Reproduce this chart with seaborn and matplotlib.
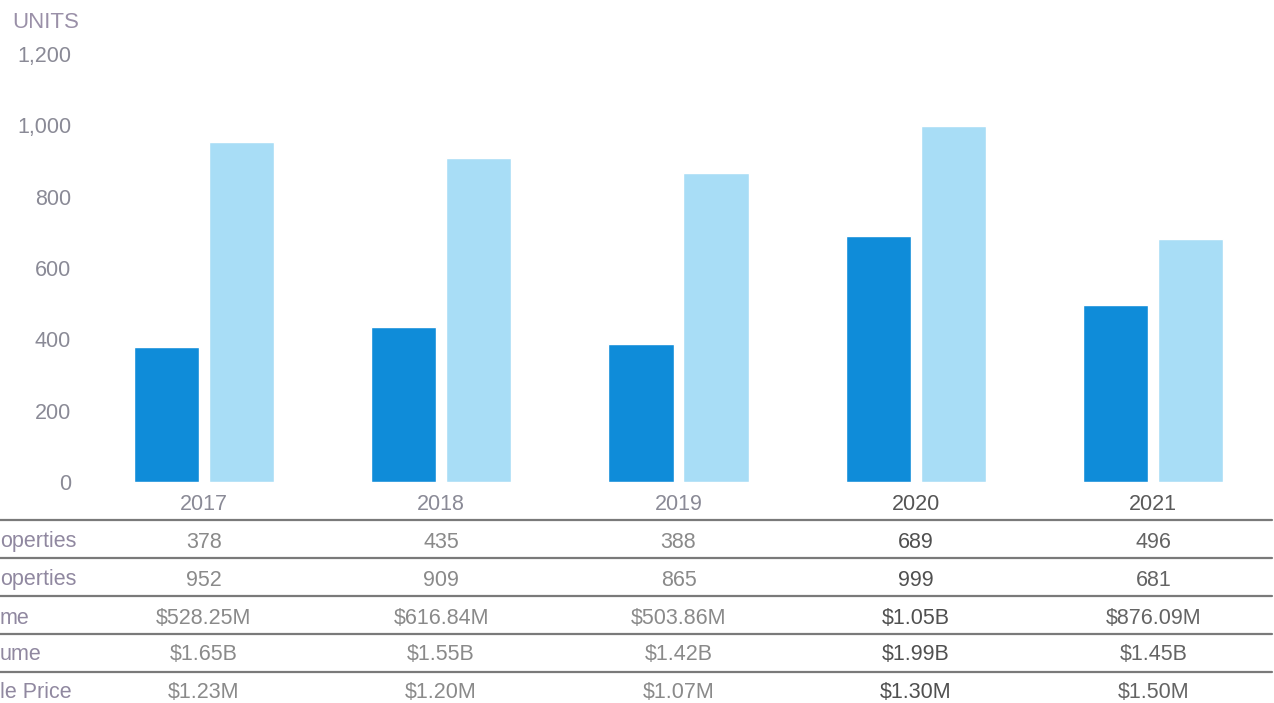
import pandas as pd
import matplotlib.pyplot as plt
import matplotlib.transforms as mtrans
from matplotlib.lines import Line2D
import seaborn as sns

years = ['2017', '2018', '2019', '2020', '2021']
sold = [378, 435, 388, 689, 496]
listed = [952, 909, 865, 999, 681]
sold_volume = ['$528.25M', '$616.84M', '$503.86M', '$1.05B', '$876.09M']
listed_volume = ['$1.65B', '$1.55B', '$1.42B', '$1.99B', '$1.45B']
avg_price = ['$1.23M', '$1.20M', '$1.07M', '$1.30M', '$1.50M']
row_labels = ['operties', 'operties', 'me', 'ume', 'le Price']
yticks = [0, 200, 400, 600, 800, 1000, 1200]

df = pd.DataFrame({'year': years * 2,
                   'units': sold + listed,
                   'kind': ['sold'] * 5 + ['listed'] * 5})

sns.set_style('white')
plt.rcParams['font.family'] = ['Liberation Sans', 'DejaVu Sans']

fig = plt.figure(figsize=(12.74, 7.03), dpi=100)
ax = fig.add_axes([85 / 1274, 221 / 703, 1187 / 1274, 428 / 703])

sns.barplot(data=df, x='year', y='units', hue='kind',
            palette=['#0f8cd9', '#a8ddf6'], saturation=1,
            width=0.632, gap=0.133, legend=False, ax=ax)

ax.set_xlim(-0.5, 4.5)
ax.set_ylim(0, 1200)
ax.set_yticks(yticks)
ax.set_yticklabels([f'{v:,}' for v in yticks])
ax.set_xlabel('')
ax.set_ylabel('')
sns.despine(ax=ax, left=True, bottom=True)
ax.tick_params(axis='y', length=0, pad=10, labelsize=15.5, labelcolor='#8a8a96')
ax.tick_params(axis='x', length=0, pad=8.5, labelsize=15.5)
for lbl, c in zip(ax.get_xticklabels(), ['#8a8a96', '#8a8a96', '#8a8a96', '#555555', '#5a5a5a']):
    lbl.set_color(c)

fig.text(12 / 1274, 1 - 22 / 703, 'UNITS', fontsize=16, color='#9a90a8',
         ha='left', va='center')

# table under the chart
trans = mtrans.blended_transform_factory(ax.transData, fig.transFigure)
rows = [[str(v) for v in sold], [str(v) for v in listed],
        sold_volume, listed_volume, avg_price]
row_y = [542, 580, 618, 655, 693]
line_y = [520, 558, 596, 634, 672]
col_colors = ['#8a8a8a', '#8a8a8a', '#8a8a8a', '#505050', '#646464']

for y in line_y:
    fig.add_artist(Line2D([0, 1272 / 1274], [1 - y / 703] * 2,
                          color='#7a7a7a', lw=1.6))

for label, vals, y in zip(row_labels, rows, row_y):
    fig.text(0.0, 1 - y / 703, label, fontsize=15.5, color='#9088a0',
             ha='left', va='center')
    for i, v in enumerate(vals):
        ax.text(i, 1 - y / 703, v, transform=trans, fontsize=15.5,
                color=col_colors[i], ha='center', va='center', clip_on=False)

fig.savefig('out.png', dpi=100, facecolor='white')
